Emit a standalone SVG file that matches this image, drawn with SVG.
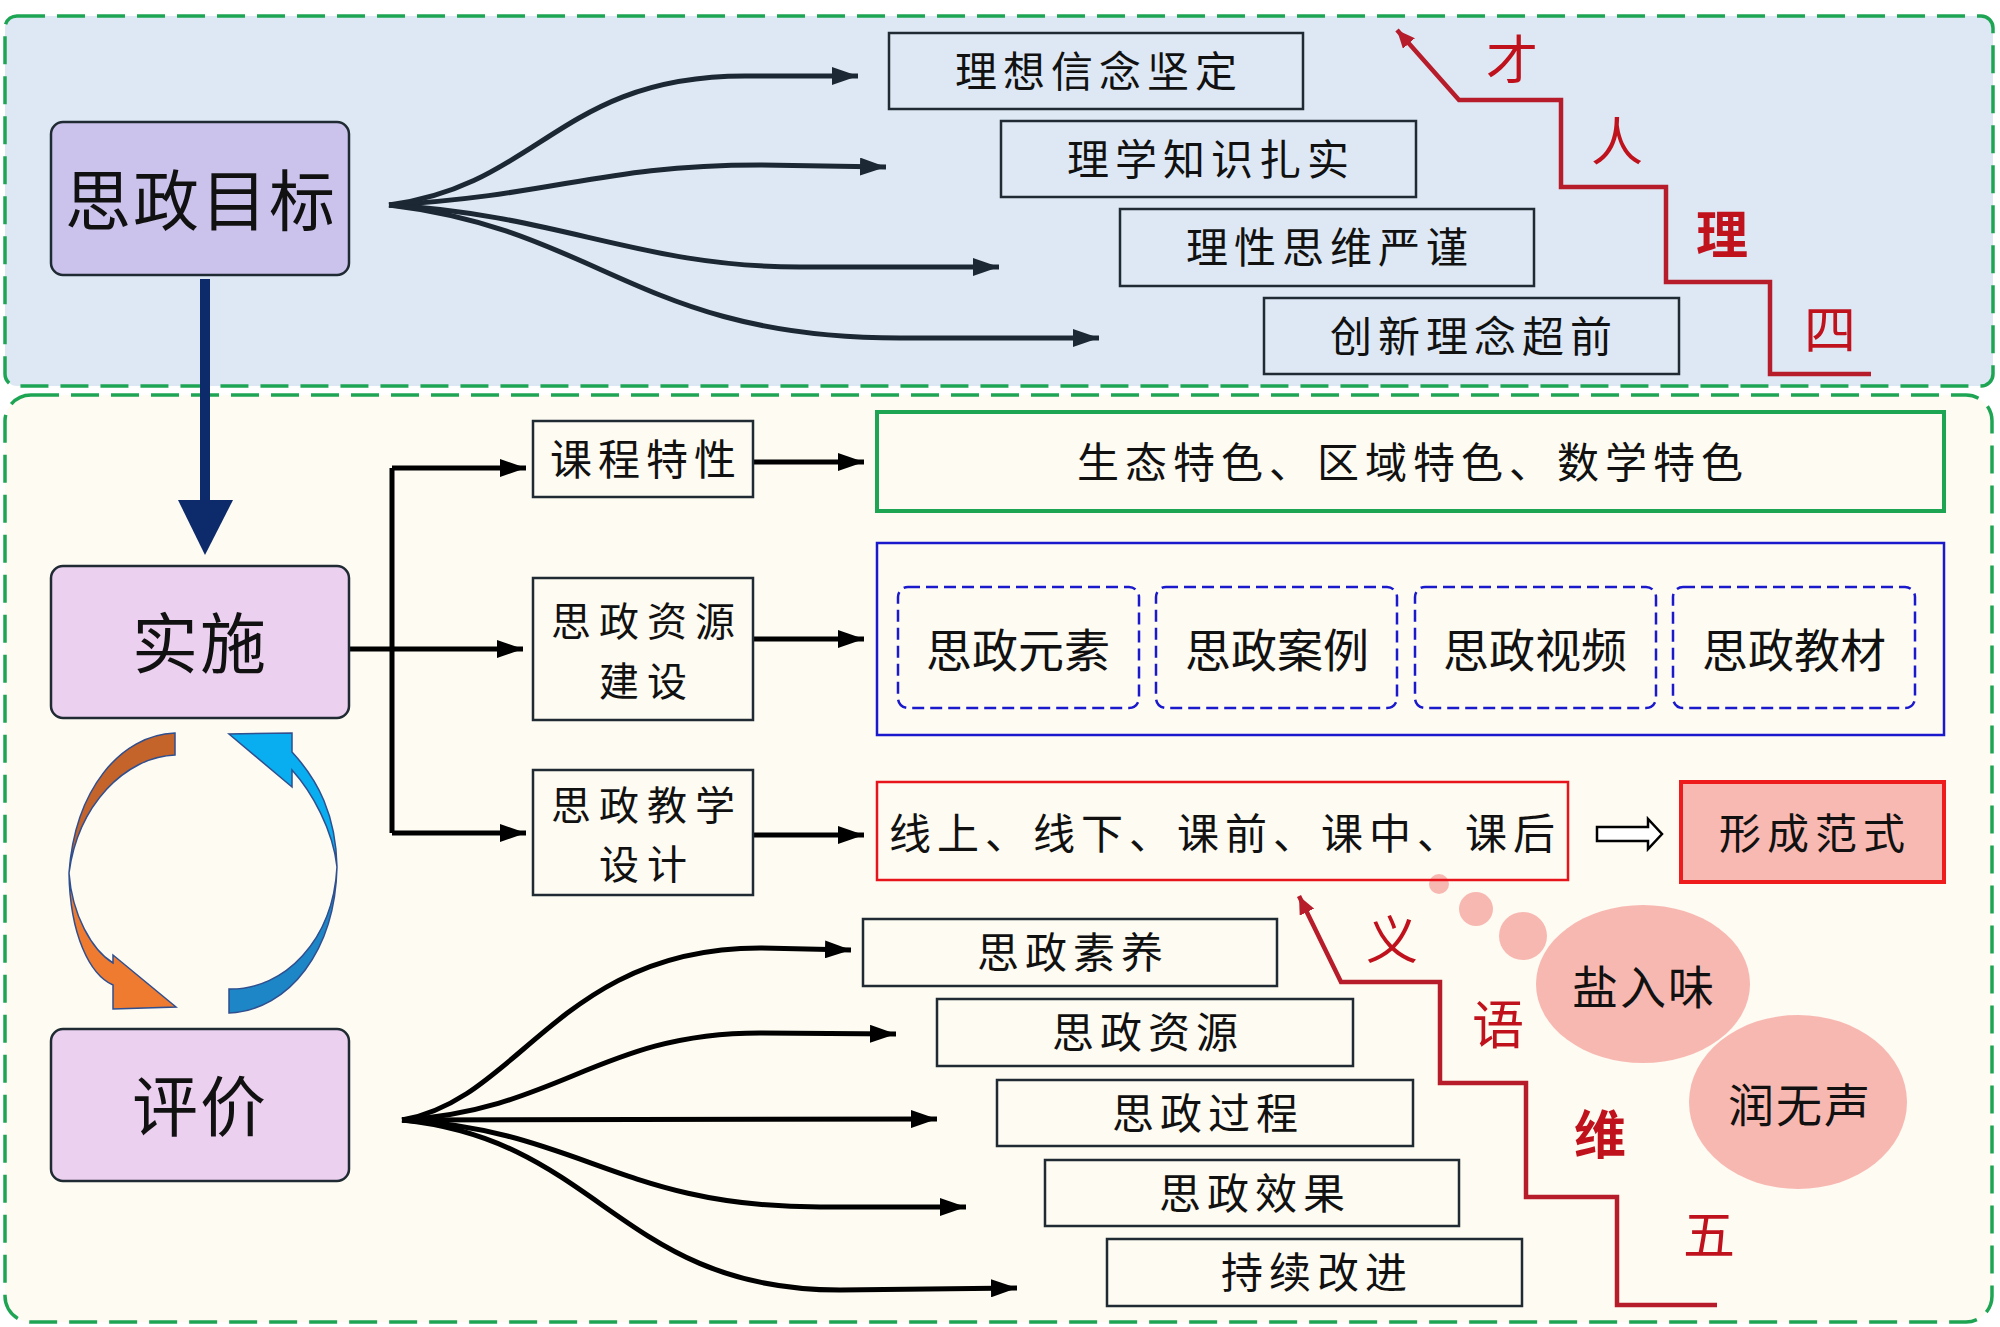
<svg xmlns="http://www.w3.org/2000/svg" width="2000" height="1327" viewBox="0 0 2000 1327">
<defs>
<style>
text { font-family: "Noto Sans CJK SC", "Noto Sans CJK JP", sans-serif; text-anchor: middle; dominant-baseline: central; fill: #111; }
.panel { stroke: #1ea554; stroke-width: 3.5; stroke-dasharray: 28 12; }
.box { fill: none; stroke: #1f2a33; stroke-width: 2.5; }
.main { fill: #ccc3ec; stroke: #1f2a33; stroke-width: 2.5; }
.main2 { fill: #ecd0f0; stroke: #1f2a33; stroke-width: 2.5; }
.lbl { font-size: 42px; letter-spacing: 6px; }
.lbl2 { font-size: 40px; letter-spacing: 8px; }
.big { font-size: 66px; letter-spacing: 2px; }
.hei { font-size: 46px; }
.red { font-size: 52px; fill: #c0121c; }
.fanTop { fill: none; stroke: #1c2833; stroke-width: 5; marker-end: url(#ahNavy); }
.fanBot { fill: none; stroke: #000; stroke-width: 5; marker-end: url(#ahBlack); }
.conn { fill: none; stroke: #000; stroke-width: 5; }
.stair { fill: none; stroke: #b71c2a; stroke-width: 4.5; }
.dbox { fill: none; stroke: #1a1acc; stroke-width: 2.5; stroke-dasharray: 12 6; }
.pink { fill: #f8b8b2; }
</style>
<marker id="ahNavy" markerUnits="userSpaceOnUse" markerWidth="28" markerHeight="18" refX="26" refY="9" orient="auto">
<path d="M0,0 L26,9 L0,18 Z" fill="#1c2833"/>
</marker>
<marker id="ahBlack" markerUnits="userSpaceOnUse" markerWidth="28" markerHeight="18" refX="26" refY="9" orient="auto">
<path d="M0,0 L26,9 L0,18 Z" fill="#000"/>
</marker>
<marker id="ahRed" markerUnits="userSpaceOnUse" markerWidth="20" markerHeight="16" refX="18" refY="8" orient="auto">
<path d="M0,0 L18,8 L0,16 Z" fill="#b71c2a"/>
</marker>
</defs>

<!-- panels -->
<rect class="panel" x="5" y="395" width="1987" height="927" rx="26" fill="#fefbf2"/>
<rect class="panel" x="5" y="16" width="1988" height="370" rx="12" fill="#dde8f4"/>

<!-- connectors -->
<g id="connectors">
  <path class="fanTop" d="M389,205 C540,185 560,76 745,76 L858,76"/>
  <path class="fanTop" d="M389,205 C560,195 600,165 760,165 L886,167"/>
  <path class="fanTop" d="M389,205 C560,215 640,267 800,267 L999,267"/>
  <path class="fanTop" d="M389,205 C600,230 640,338 900,338 L1099,338"/>

  <path d="M205,279 L205,505" fill="none" stroke="#0d2b6b" stroke-width="10"/>
  <path d="M178,500 L233,500 L205,555 Z" fill="#0d2b6b"/>

  <path class="conn" d="M349,649 L392,649 M392,468 L392,833"/>
  <path class="conn" marker-end="url(#ahBlack)" d="M392,468 L526,468"/>
  <path class="conn" marker-end="url(#ahBlack)" d="M392,649 L523,649"/>
  <path class="conn" marker-end="url(#ahBlack)" d="M392,833 L526,833"/>
  <path class="conn" marker-end="url(#ahBlack)" d="M753,462 L864,462"/>
  <path class="conn" marker-end="url(#ahBlack)" d="M753,639 L864,639"/>
  <path class="conn" marker-end="url(#ahBlack)" d="M753,835 L864,835"/>

  <path class="fanBot" d="M402,1120 C520,1100 560,948 760,948 L851,950"/>
  <path class="fanBot" d="M402,1120 C560,1110 600,1033 760,1033 L896,1034"/>
  <path class="fanBot" d="M402,1120 L937,1119"/>
  <path class="fanBot" d="M402,1120 C580,1130 620,1207 820,1207 L966,1207"/>
  <path class="fanBot" d="M402,1120 C600,1140 620,1290 840,1290 L1017,1288"/>

  <path d="M1597,827 L1648,827 L1648,819 L1662,834 L1648,849 L1648,841 L1597,841 Z" fill="#fff" stroke="#000" stroke-width="2.5"/>
</g>

<!-- cycle arrows -->
<g id="cycle">
  <path d="M175,733 C120,735 75,790 69,873 C78,805 125,757 175,755 Z" fill="#c4632a" stroke="#2f4f8f" stroke-width="1.5"/>
  <path d="M69,873 C70,935 90,975 113,985 L113,1009 L176,1007 L113,955 L113,963 C92,950 72,915 69,873 Z" fill="#ee7b30" stroke="#2f4f8f" stroke-width="1.5"/>
  <path d="M229,1013 C290,1010 335,950 337,867 C333,940 285,990 229,989 Z" fill="#1c86c6" stroke="#2f4f8f" stroke-width="1.5"/>
  <path d="M337,867 C336,815 318,780 292,752 L292,733 L229,734 L292,787 L292,770 C312,792 333,830 337,867 Z" fill="#08aeef" stroke="#2f4f8f" stroke-width="1.5"/>
</g>

<!-- goal node -->
<g id="goal">
  <rect class="main" x="51" y="122" width="298" height="153" rx="12"/>
  <text class="big" x="201" y="196">思政目标</text>
</g>
<g id="goal1"><rect class="box" x="889" y="33" width="414" height="76"/><text class="lbl" x="1099" y="68">理想信念坚定</text></g>
<g id="goal2"><rect class="box" x="1001" y="121" width="415" height="76"/><text class="lbl" x="1211" y="156">理学知识扎实</text></g>
<g id="goal3"><rect class="box" x="1120" y="209" width="414" height="77"/><text class="lbl" x="1330" y="244">理性思维严谨</text></g>
<g id="goal4"><rect class="box" x="1264" y="298" width="415" height="76"/><text class="lbl" x="1474" y="333">创新理念超前</text></g>

<!-- top staircase -->
<g id="stair-top">
  <path class="stair" marker-end="url(#ahRed)" d="M1871,374 L1770,374 L1770,282 L1666,282 L1666,187 L1561,187 L1561,100 L1459,100 L1397,30"/>
  <text class="red" x="1512" y="56">才</text>
  <text class="red" x="1617" y="138">人</text>
  <text class="red" x="1722" y="231" font-weight="bold">理</text>
  <text class="red" x="1830" y="326">四</text>
</g>

<!-- implementation -->
<g id="impl">
  <rect class="main2" x="51" y="566" width="298" height="152" rx="12"/>
  <text class="big" x="200" y="639">实施</text>
</g>
<g id="course"><rect class="box" x="533" y="421" width="220" height="76"/><text class="lbl" x="646" y="456">课程特性</text></g>
<g id="resource"><rect class="box" x="533" y="578" width="220" height="142"/><text class="lbl2"><tspan x="647" y="619">思政资源</tspan><tspan x="647" dy="60">建设</tspan></text></g>
<g id="design"><rect class="box" x="533" y="770" width="220" height="125"/><text class="lbl2"><tspan x="647" y="803">思政教学</tspan><tspan x="647" dy="59">设计</tspan></text></g>

<g id="feature">
  <rect x="877" y="412" width="1067" height="99" fill="none" stroke="#1ea554" stroke-width="4"/>
  <text class="lbl" x="1413" y="459">生态特色、区域特色、数学特色</text>
</g>
<g id="resources">
  <rect x="877" y="543" width="1067" height="192" fill="none" stroke="#1a1acc" stroke-width="2.5"/>
  <rect class="dbox" x="898" y="587" width="241" height="121" rx="10"/>
  <rect class="dbox" x="1156" y="587" width="241" height="121" rx="10"/>
  <rect class="dbox" x="1415" y="587" width="241" height="121" rx="10"/>
  <rect class="dbox" x="1673" y="587" width="242" height="121" rx="10"/>
  <text class="hei" x="1018" y="647">思政元素</text>
  <text class="hei" x="1277" y="647">思政案例</text>
  <text class="hei" x="1535" y="647">思政视频</text>
  <text class="hei" x="1794" y="647">思政教材</text>
</g>

<!-- pink bubbles -->
<g id="bubbles">
  <circle class="pink" cx="1439" cy="884" r="10"/>
  <circle class="pink" cx="1476" cy="909" r="17"/>
  <circle class="pink" cx="1523" cy="936" r="24"/>
  <ellipse class="pink" cx="1643" cy="984" rx="107" ry="79"/>
  <ellipse class="pink" cx="1798" cy="1102" rx="109" ry="87"/>
  <text class="hei" x="1644" y="984" letter-spacing="2">盐入味</text>
  <text class="hei" x="1800" y="1102" letter-spacing="2">润无声</text>
</g>

<g id="modes">
  <rect x="877" y="782" width="691" height="98" fill="none" stroke="#e8141c" stroke-width="2.5"/>
  <text class="lbl" x="1225" y="830">线上、线下、课前、课中、课后</text>
</g>
<g id="paradigm">
  <rect x="1681" y="782" width="263" height="100" fill="#f8b9b3" stroke="#ee1c1c" stroke-width="4"/>
  <text class="lbl" x="1815" y="830">形成范式</text>
</g>

<!-- evaluation -->
<g id="eval">
  <rect class="main2" x="51" y="1029" width="298" height="152" rx="12"/>
  <text class="big" x="200" y="1102">评价</text>
</g>
<g id="eval1"><rect class="box" x="863" y="919" width="414" height="67"/><text class="lbl" x="1073" y="949">思政素养</text></g>
<g id="eval2"><rect class="box" x="937" y="999" width="416" height="67"/><text class="lbl" x="1148" y="1029">思政资源</text></g>
<g id="eval3"><rect class="box" x="997" y="1080" width="416" height="66"/><text class="lbl" x="1208" y="1110">思政过程</text></g>
<g id="eval4"><rect class="box" x="1045" y="1160" width="414" height="66"/><text class="lbl" x="1255" y="1190">思政效果</text></g>
<g id="eval5"><rect class="box" x="1107" y="1239" width="415" height="67"/><text class="lbl" x="1317" y="1269">持续改进</text></g>

<!-- bottom staircase -->
<g id="stair-bottom">
  <path class="stair" marker-end="url(#ahRed)" d="M1717,1305 L1617,1305 L1617,1197 L1526,1197 L1526,1083 L1440,1083 L1440,982 L1341,982 L1299,896"/>
  <text class="red" x="1392" y="936">义</text>
  <text class="red" x="1498" y="1021">语</text>
  <text class="red" x="1600" y="1131" font-weight="bold">维</text>
  <text class="red" x="1709" y="1231">五</text>
</g>
</svg>
